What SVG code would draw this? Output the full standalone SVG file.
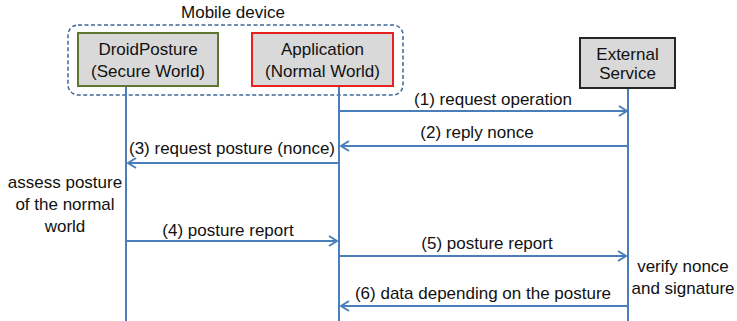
<svg xmlns="http://www.w3.org/2000/svg" width="737" height="321" viewBox="0 0 737 321">
<style>
text{font-family:"Liberation Sans",Arial,sans-serif;font-size:17px;fill:#111;text-anchor:middle}
.box{fill:#d9d9d9;stroke-width:2}
.life{stroke:#4a7ebb;stroke-width:2;fill:none}
.msg{stroke:#4a7ebb;stroke-width:2;fill:none;marker-end:url(#arr)}
</style>
<defs>
<marker id="arr" viewBox="0 0 10 12" refX="9" refY="6" markerWidth="10" markerHeight="12" markerUnits="userSpaceOnUse" orient="auto">
<path d="M1,1 L9,6 L1,11" fill="none" stroke="#4a7ebb" stroke-width="2"/>
</marker>
</defs>
<rect x="0" y="0" width="737" height="321" fill="#fff"/>
<g id="mobile-device">
<rect x="68" y="25" width="335" height="70" rx="10" fill="none" stroke="#3f6597" stroke-width="1.5" stroke-dasharray="4,2.5"/>
<text x="233" y="18">Mobile device</text>
</g>
<g id="connectors">
<line class="life" x1="126" y1="87" x2="126" y2="321"/>
<line class="life" x1="339" y1="87" x2="339" y2="321"/>
<line class="life" x1="628" y1="89" x2="628" y2="321"/>
<line class="msg" x1="340" y1="111" x2="627" y2="111"/>
<line class="msg" x1="627" y1="146" x2="341" y2="146"/>
<line class="msg" x1="338" y1="163" x2="128" y2="163"/>
<line class="msg" x1="127" y1="241" x2="337" y2="241"/>
<line class="msg" x1="340" y1="256" x2="626" y2="256"/>
<line class="msg" x1="627" y1="306" x2="341" y2="306"/>
<text x="493" y="105">(1) request operation</text>
<text x="477" y="138">(2) reply nonce</text>
<text x="232" y="154">(3) request posture (nonce)</text>
<text x="228" y="236">(4) posture report</text>
<text x="487" y="249">(5) posture report</text>
<text x="483" y="299">(6) data depending on the posture</text>
</g>
<g id="droidposture">
<rect class="box" x="78" y="33" width="140" height="53" stroke="#5f7530"/>
<text x="148" y="55">DroidPosture</text>
<text x="148" y="77">(Secure World)</text>
</g>
<g id="application">
<rect class="box" x="252" y="33" width="141" height="53" stroke="#e8201f"/>
<text x="322.5" y="55">Application</text>
<text x="322.5" y="77">(Normal World)</text>
</g>
<g id="external-service">
<rect class="box" x="580" y="38" width="95" height="50" stroke="#262626" stroke-width="1.5"/>
<text x="627.5" y="60">External</text>
<text x="627.5" y="79">Service</text>
</g>
<g id="assess-note">
<text x="65" y="188">assess posture</text>
<text x="65" y="210">of the normal</text>
<text x="65" y="232">world</text>
</g>
<g id="verify-note">
<text x="683" y="272">verify nonce</text>
<text x="683" y="294">and signature</text>
</g>
</svg>
